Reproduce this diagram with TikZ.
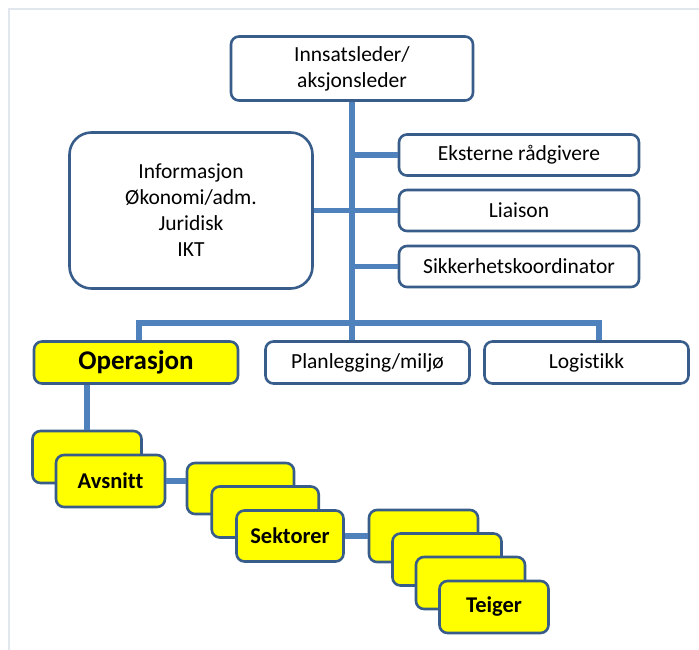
\documentclass[tikz,border=0pt]{standalone}
\usepackage{fontspec}
\setmainfont[Ligatures=NoCommon]{Carlito}
\usetikzlibrary{positioning}
\definecolor{boxline}{RGB}{56,93,138}
\definecolor{linkcol}{RGB}{79,129,189}
\definecolor{unitfill}{RGB}{255,255,0}
\definecolor{framecol}{RGB}{226,231,238}

\begin{document}
\begin{tikzpicture}[
  x=1pt, y=-1pt,
  font=\fontsize{21.5}{26}\selectfont,
  box/.style={
    draw=boxline, line width=2.6pt, rounded corners=8pt,
    fill=white, text=black, align=center,
    inner sep=2pt, minimum width=240pt, minimum height=41pt
  },
  lowbox/.style={box, minimum width=204pt, minimum height=42pt},
  unit/.style={
    box, fill=unitfill, minimum width=109pt, minimum height=52pt,
    font=\fontsize{22.5}{26}\selectfont\bfseries
  },
  conn/.style={draw=linkcol, line width=5.4pt},
]
\useasboundingbox (0,0) rectangle (699,650);
\draw[framecol, line width=1.2pt] (9,650) -- (9,9) -- (699,9);

% ---- Top part ----
\node[box, minimum width=242pt, minimum height=64pt] (top) at (352,68.5)
  {Innsatsleder/\\aksjonsleder};

\node[box, rounded corners=22pt, minimum width=243pt, minimum height=156pt]
  (info) at (191,210.5) {Informasjon\\Økonomi/adm.\\Juridisk\\IKT};

\node[box] (eks) at (519,155)   {Eksterne rådgivere};
\node[box] (lia) at (519,210.5) {Liaison};
\node[box] (sik) at (519,266.5) {Sikkerhetskoordinator};

% ---- Sections ----
\node[lowbox, fill=unitfill, font=\fontsize{27}{30}\selectfont\bfseries]
  (ops) at (136,362.5) {Operasjon};
\node[lowbox] (plan) at (367.5,362.5) {Planlegging/miljø};
\node[lowbox] (log)  at (586.5,362.5) {Logistikk};

\coordinate (busL) at (139,323);
\coordinate (busR) at (599,323);

% ---- Edges of the top part ----
\draw[conn] (top.south) -- (top.south |- plan.north);
\draw[conn] (ops.north -| busL) -- (busL) -- (busR) -- (log.north -| busR);
\foreach \b in {eks, lia, sik}
  \draw[conn] (\b.west) -- (\b.west -| top.south);
\draw[conn] (info.east) -- (info.east -| top.south);

% ---- Stacked units (back ones first) ----
\foreach \i in {0}
  \node[unit] (avs\i) at (87+23.5*\i, 457+24*\i) {};
\node[unit] (avs) at (110.5,481) {Avsnitt};

\foreach \i in {0,1}
  \node[unit, minimum width=107pt, minimum height=51pt]
    (sek\i) at (240.5+24.75*\i, 488.5+23.5*\i) {};
\node[unit, minimum width=107pt, minimum height=51pt] (sek) at (290,536) {Sektorer};

\foreach \i in {0,1,2}
  \node[unit] (tei\i) at (423.5+23.5*\i, 536+23.5*\i) {};
\node[unit] (tei) at (494,607) {Teiger};

% ---- Edges of the units ----
\draw[conn] (avs0.north) -- (avs0.north |- ops.south);
\draw[conn] (avs.east) -- (avs.east -| sek0.west);
\draw[conn] (sek.east) -- (sek.east -| tei0.west);

\end{tikzpicture}
\end{document}
